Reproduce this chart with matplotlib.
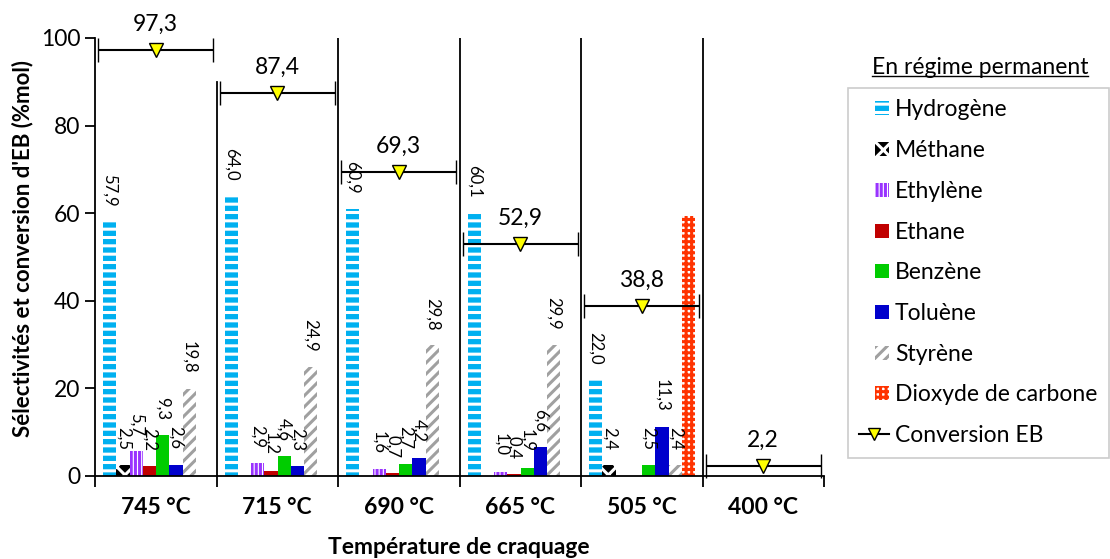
import matplotlib
matplotlib.use('Agg')
import matplotlib.pyplot as plt
from matplotlib.lines import Line2D
from matplotlib.patches import Rectangle
from matplotlib.container import BarContainer
from matplotlib.legend_handler import HandlerPatch, update_from_first_child
import numpy as np

plt.rcParams['font.family'] = ['Lato', 'DejaVu Sans']
plt.rcParams['hatch.linewidth'] = 2.2

# Data
categories = ['745 °C', '715 °C', '690 °C', '665 °C', '505 °C', '400 °C']
hydrogene = [57.9, 64.0, 60.9, 60.1, 22.0, 0]
methane = [2.5, 0, 0, 0, 2.4, 0]
ethylene = [5.7, 2.9, 1.6, 1.0, 0, 0]
ethane = [2.2, 1.2, 0.7, 0.4, 0, 0]
benzene = [9.3, 4.6, 2.7, 1.9, 2.5, 0]
toluene = [2.6, 2.3, 4.2, 6.6, 11.3, 0]
styrene = [19.8, 24.9, 29.8, 29.9, 2.4, 0]
co2 = [0, 0, 0, 0, 59.4, 0]
conversion = [97.3, 87.4, 69.3, 52.9, 38.8, 2.2]

# (name, values, face, hatch colour, hatch, label the bars)
series = [
    ('Hydrogène', hydrogene, '#00B0F0', 'white', '--', True),
    ('Méthane', methane, 'black', 'white', 'xx', True),
    ('Ethylène', ethylene, 'white', '#9933FF', '||||', True),
    ('Ethane', ethane, '#C00000', None, '', True),
    ('Benzène', benzene, '#00CC00', None, '', True),
    ('Toluène', toluene, '#0000CC', None, '', True),
    ('Styrène', styrene, 'white', '#A0A0A0', '///', True),
    ('Dioxyde de carbone', co2, 'white', '#FF3300', '+++', False),
]

fig = plt.figure(figsize=(11.1, 5.59), dpi=100)
ax = fig.add_axes([95 / 1110, 1 - 476 / 559, (824 - 95) / 1110, (476 - 38) / 559])

x = np.arange(len(categories))
bw = 0.1088
start = -0.5 + 0.068

handles = []
for k, (name, vals, face, hcol, hatch, lab) in enumerate(series):
    pos = x + start + (k + 0.5) * bw
    bars = ax.bar(pos, vals, width=bw, color=face,
                  edgecolor=hcol if hcol else face, linewidth=0,
                  hatch=hatch if hatch else None, label=name, zorder=2)
    handles.append(bars)
    if lab:
        for px, v in zip(pos, vals):
            if v > 0:
                ax.annotate(f'{v:.1f}'.replace('.', ','), (px, v),
                            xytext=(0, 11), textcoords='offset points',
                            rotation=270, ha='center', va='bottom',
                            fontsize=12, zorder=4)

# category separators
for b in [0.5, 1.5, 2.5, 3.5, 4.5]:
    ax.axvline(b, ymax=0.9 if b == 0.5 else 1.0, color='black', lw=1.3,
               zorder=1)

# conversion with horizontal error bars
eb = ax.errorbar(x, conversion, xerr=0.475, fmt='v', color='black',
                 mfc='#FFFF00', mec='black', ms=10, mew=1.0, lw=1.5,
                 capsize=8.3, capthick=2.2, ecolor='black', zorder=5,
                 clip_on=False)
for c in eb[1]:
    c.set_clip_on(False)
for c in eb[2]:
    c.set_clip_on(False)
for xi, v in zip(x, conversion):
    ax.annotate(f'{v:.1f}'.replace('.', ','), (xi, v), xytext=(0, 11),
                textcoords='offset points', ha='center', va='bottom',
                fontsize=16.5, zorder=6, annotation_clip=False)

ax.set_xlim(-0.5, 5.5)
ax.set_ylim(0, 100)
ax.set_yticks([0, 20, 40, 60, 80, 100])
ax.tick_params(axis='y', labelsize=16.5, direction='out', length=7, width=1.3)
ax.set_xticks(np.arange(-0.5, 6.0, 1.0))
ax.set_xticklabels([])
ax.tick_params(axis='x', direction='out', length=8, width=1.3)
for xi, c in zip(x, categories):
    ax.text(xi, -0.073, c, transform=ax.get_xaxis_transform(), ha='center',
            va='center', fontsize=16.5, fontweight='bold')

for s in ['top', 'right']:
    ax.spines[s].set_visible(False)
for s in ['left', 'bottom']:
    ax.spines[s].set_linewidth(1.3)

ax.set_ylabel("Sélectivités et conversion d'EB (%mol)", fontsize=16,
              fontweight='bold')
ax.yaxis.set_label_coords(-0.085, 0.52)
fig.text(459 / 1110, 1 - 547 / 559, 'Température de craquage', ha='center',
         va='center', fontsize=16.5, fontweight='bold')


# legend: small square swatches aligned to the right of the handle box
def small_rect(legend, orig_handle, xdescent, ydescent, width, height, fontsize):
    s = 10
    return Rectangle((-xdescent + width - s, -ydescent + (height - s) / 2), s, s)


conv_handle = Line2D([], [], color='black', lw=1.5, marker='v', mfc='#FFFF00',
                     mec='black', ms=8)
leg = fig.legend(handles + [conv_handle],
                 [s[0] for s in series] + ['Conversion EB'],
                 handler_map={BarContainer: HandlerPatch(
                     patch_func=small_rect, update_func=update_from_first_child)},
                 loc='upper left', bbox_to_anchor=(848 / 1110, 1 - 88 / 559),
                 bbox_transform=fig.transFigure, frameon=True, fancybox=False,
                 edgecolor='#BFBFBF', fontsize=16.5, handlelength=1.3,
                 handleheight=0.7, handletextpad=0.25, labelspacing=0.86,
                 borderpad=0.5, borderaxespad=0)
leg.get_frame().set_linewidth(1.2)

title = fig.text(980 / 1110, 1 - 68 / 559, 'En régime permanent', ha='center',
                 va='center', fontsize=16.5)
fig.canvas.draw()
bb = title.get_window_extent().transformed(fig.transFigure.inverted())
fig.add_artist(Line2D([bb.x0, bb.x1], [bb.y0 + 0.004, bb.y0 + 0.004],
                      color='black', lw=1.0, transform=fig.transFigure))

fig.savefig('out.png', dpi=100)
